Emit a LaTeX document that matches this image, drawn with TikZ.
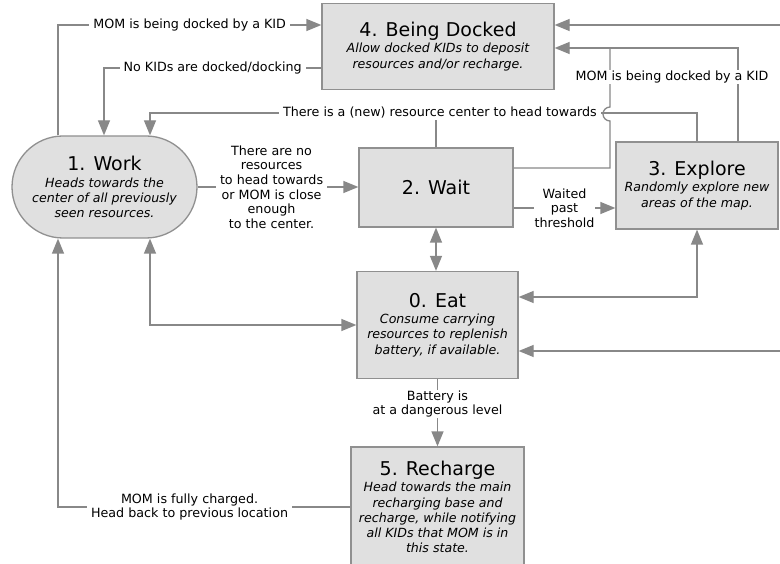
\documentclass[tikz,border=0pt]{standalone}
\usepackage{fontspec}
\setmainfont{DejaVu Sans}
\usetikzlibrary{arrows.meta,calc}
\definecolor{ln}{HTML}{888888}
\definecolor{bx}{HTML}{E0E0E0}
\definecolor{bd}{HTML}{909090}
\newcommand{\ttl}[1]{{\upshape\fontsize{19}{17}\selectfont #1}}
\tikzset{
  state/.style={draw=bd, fill=bx, line width=1.3pt, align=center, inner sep=0pt,
    font=\fontsize{12.6}{15.2}\selectfont\itshape},
  conn/.style={draw=ln, line width=1.3pt},
  arr/.style={conn, -{Triangle[length=15pt,width=12pt]}},
  arrtwo/.style={conn, {Triangle[length=15pt,width=12pt]}-{Triangle[length=15pt,width=12pt]}},
  lbl/.style={fill=white, inner xsep=4pt, inner ysep=1pt, align=center, text=black,
    font=\fontsize{12.7}{14.6}\selectfont}
}
\begin{document}
\begin{tikzpicture}[x=1pt,y=-1pt]
\useasboundingbox (0,0) rectangle (780,564);
\fill[white] (0,0) rectangle (780,564);
\clip (0,0) rectangle (780,564);

% states
\node[state, minimum width=232pt, minimum height=86pt] (dock) at (438,46.5)
  {\ttl{4. Being Docked}\\[1pt]Allow docked KIDs to deposit\\resources and/or recharge.};
\node[state, rounded corners=51pt, minimum width=185pt, minimum height=102pt] (work) at (104.5,187)
  {\ttl{1. Work}\\[1pt]Heads towards the\\center of all previously\\seen resources.};
\node[state, minimum width=154pt, minimum height=79pt] (wait) at (436,187.5)
  {\ttl{2. Wait}};
\node[state, minimum width=162pt, minimum height=87pt] (explore) at (697,185.5)
  {\ttl{3. Explore}\\[1pt]Randomly explore new\\areas of the map.};
\node[state, minimum width=161pt, minimum height=107pt] (eat) at (437.5,325)
  {\ttl{0. Eat}\\[1pt]Consume carrying\\resources to replenish\\battery, if available.};
\node[state, minimum width=173pt, minimum height=120pt] (recharge) at (437.5,507)
  {\ttl{5. Recharge}\\[1pt]Head towards the main\\recharging base and\\recharge, while notifying\\all KIDs that MOM is in\\this state.};

% helper coordinates
\coordinate (hy) at (0,113);
\coordinate (dy) at (0,48);
\coordinate (jx) at (610,0);
\coordinate (r1) at (782,25);
\coordinate (r2) at (782,351);
\coordinate (wn1) at ([xshift=-46.5pt]work.north);
\coordinate (wn2) at ([xshift=-0.5pt]work.north);
\coordinate (wn3) at ([xshift=45.5pt]work.north);
\coordinate (ws1) at ([xshift=-46.5pt]work.south);
\coordinate (ws3) at ([xshift=45.5pt]work.south);
\coordinate (wd) at ([yshift=19.5pt]wait.east);
\coordinate (we) at ([yshift=-20.5pt]wait.east);
\coordinate (ex) at ([xshift=41pt]explore.north);
\coordinate (de) at ([yshift=-1.5pt]dock.east);

% connectors
\draw[arr] (wn1) |- node[lbl,pos=0.75]{MOM is being docked by a KID} ([yshift=21.5pt]dock.west);
\draw[arr] ([yshift=-21.5pt]dock.west) -| node[lbl,pos=0.25]{No KIDs are docked/docking} (wn2);
\draw[conn] (wait.north) -- (wait.north |- hy);
\draw[arr] (explore.north) -- (explore.north |- hy) -- node[lbl,pos=0.47]{There is a (new) resource center to head towards} (wn3 |- hy) -- (wn3);
\draw[conn] (wd) -| (610,121) arc[start angle=270, end angle=90, radius=7pt] -- (jx |- dy);
\draw[arr] (ex) -- (ex |- de) -- (de);
\node[lbl] (lbdock) at (672,77) {MOM is being docked by a KID};
\draw[arr] (r1) -- (r1 -| dock.east);
\draw[arr] (r2) -- (r2 -| eat.east);
\draw[arr] (work.east) -- node[lbl,pos=0.46]{There are no\\resources\\to head towards\\or MOM is close\\enough\\to the center.} (work.east -| wait.west);
\draw[arrtwo] (ws3) |- (eat.west);
\draw[arr] (recharge.west) -| node[lbl,pos=0.275]{MOM is fully charged.\\Head back to previous location} (ws1);
\draw[arrtwo] (wait.south) -- (wait.south |- eat.north);
\draw[arr] (we) -- node[lbl,inner xsep=1pt]{Waited\\past\\threshold} (we -| explore.west);
\draw[arrtwo] (explore.south) |- ([yshift=28pt]eat.east);
\draw[arr] (eat.south) -- node[lbl,pos=0.37]{Battery is\\at a dangerous level} (recharge.north);
\end{tikzpicture}
\end{document}
